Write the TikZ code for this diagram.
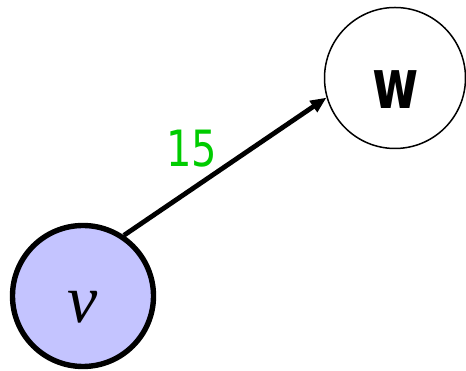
\documentclass[tikz,border=0pt]{standalone}
\usepackage{fontspec}
\setmainfont{Liberation Serif}
\newfontfamily\labelfont{DejaVu Sans}
\usetikzlibrary{arrows.meta}
\definecolor{vfill}{RGB}{196,196,255}
\definecolor{lblgreen}{RGB}{0,204,0}
\begin{document}
\begin{tikzpicture}[x=1pt,y=1pt,
  vertex/.style={circle, draw=black, minimum size=141pt, inner sep=0pt},
  vtext/.style={inner sep=0pt, font=\fontsize{68}{68}\selectfont\itshape},
  wtext/.style={inner sep=0pt, font=\labelfont\bfseries\fontsize{66}{66}\selectfont},
  weight/.style={inner sep=0pt, text=lblgreen, font=\labelfont\fontsize{50}{50}\selectfont},
  edgeline/.style={line width=4.8pt, -{Triangle[length=16pt,width=13pt]}}]
\useasboundingbox (0,0) rectangle (466,371);
\node[vertex, fill=vfill, line width=5.4pt] (v) at (83,75) {};
\node[vertex, line width=1.5pt] (w) at (395,293) {};
\node[vtext] (vt) at (83,64) {v};
\node[wtext] (wt) at (396,281.5) {\scalebox{0.76}[1.05]{w}};
\node[weight] (l) at (191.5,222.5) {\scalebox{0.8}[1]{15}};
\draw[edgeline] (v.56) -- (w.196);
\end{tikzpicture}
\end{document}
